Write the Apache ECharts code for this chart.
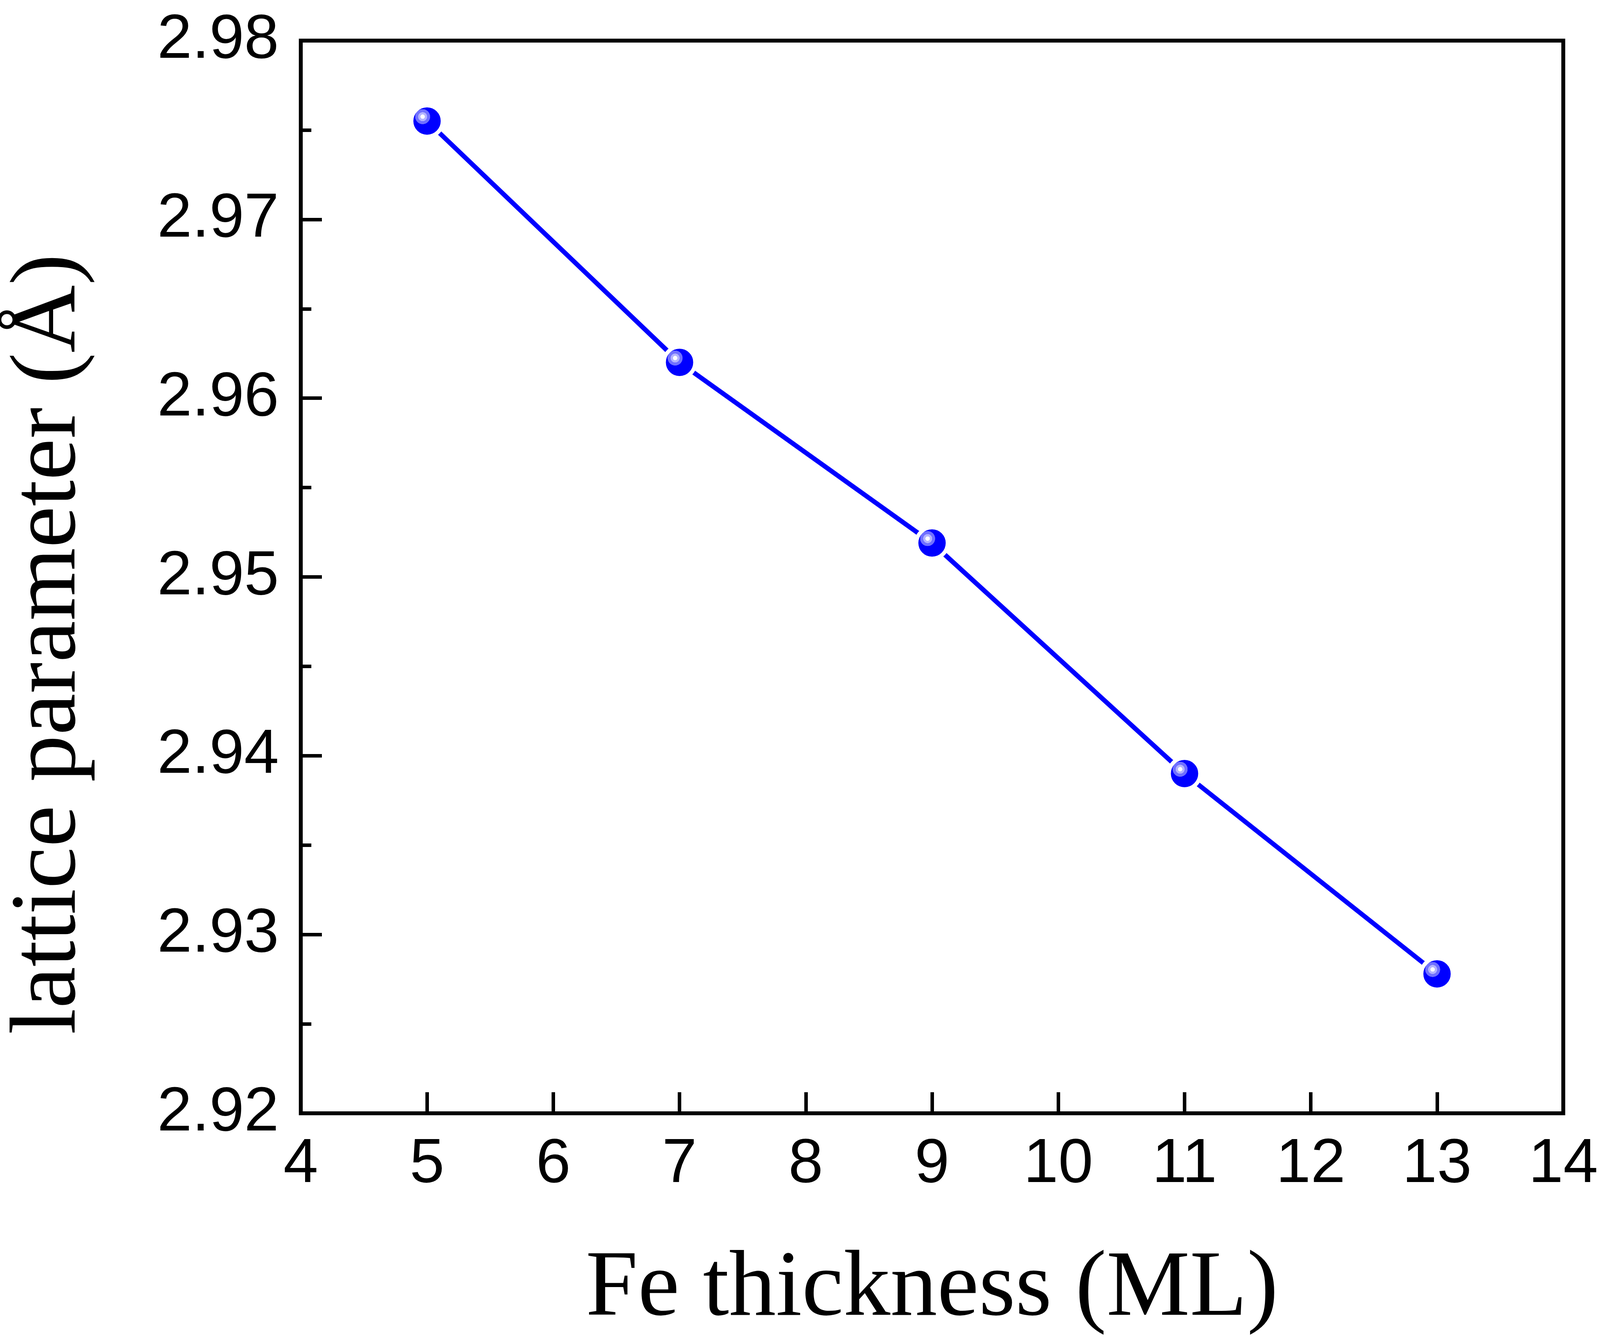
<!DOCTYPE html>
<html>
<head>
<meta charset="utf-8">
<script src="https://cdn.jsdelivr.net/npm/echarts@6/dist/echarts.min.js"></script>
<style>
html,body{margin:0;padding:0;background:#fff;overflow:hidden;}
#chart{width:100vw;height:100vh;}
</style>
</head>
<body>
<div id="chart"></div>
<script>
var thickness = [5, 7, 9, 11, 13];
var latticeParam = [2.9755, 2.9620, 2.9519, 2.9390, 2.9278];
var xTitle = 'Fe thickness (ML)';
var yTitle = 'lattice parameter (Å)';

var el = document.getElementById('chart');
var W = el.clientWidth || window.innerWidth;
var H = el.clientHeight || window.innerHeight;
var sx = W / 4677;   // reference layout was 4677 wide
var sy = H / 3429;

var chart = echarts.init(el, null, {renderer: 'canvas'});
var seriesData = thickness.map(function (x, i) { return [x, latticeParam[i]]; });

var ballFill = {
  type: 'radial', x: 0.375, y: 0.375, r: 0.5,
  colorStops: [
    {offset: 0, color: '#ffffff'},
    {offset: 0.12, color: '#ffffff'},
    {offset: 0.13, color: '#b4b4ff'},
    {offset: 0.25, color: '#b4b4ff'},
    {offset: 0.26, color: '#7070ff'},
    {offset: 0.42, color: '#7070ff'},
    {offset: 0.43, color: '#0000ff'},
    {offset: 1, color: '#0000ff'}
  ]
};

var gridLeft = Math.round(846 * sx);
var gridRight = Math.round(107 * sx);
var gridTop = Math.round(104 * sy);
var gridBottom = Math.round(575 * sy);
var yTitleEdge = Math.round(250 * sx);

chart.setOption({
  animation: false,
  backgroundColor: '#ffffff',
  grid: {
    left: gridLeft, right: gridRight, top: gridTop, bottom: gridBottom,
    show: true, borderColor: '#000', borderWidth: 10, backgroundColor: 'transparent'
  },
  xAxis: {
    type: 'value', min: 4, max: 14, interval: 1,
    name: xTitle, nameLocation: 'middle', nameGap: 333,
    nameTextStyle: {fontFamily: 'Liberation Serif', fontSize: 240, color: '#000', lineHeight: 240},
    axisLine: {show: true, lineStyle: {color: '#000', width: 10}},
    axisTick: {show: true, inside: true, length: 54, lineStyle: {color: '#000', width: 9}},
    axisLabel: {fontFamily: 'Liberation Sans', fontSize: 160, color: '#000', margin: 52},
    splitLine: {show: false}
  },
  yAxis: {
    type: 'value', min: 2.92, max: 2.98, interval: 0.01,
    name: yTitle, nameLocation: 'middle', nameGap: gridLeft - yTitleEdge, nameRotate: 90,
    nameTextStyle: {fontFamily: 'Liberation Serif', fontSize: 240, color: '#000', lineHeight: 240, padding: [0, 344, 0, 0]},
    axisLine: {show: true, lineStyle: {color: '#000', width: 10}},
    axisTick: {show: true, inside: true, length: 54, lineStyle: {color: '#000', width: 9}},
    minorTick: {show: true, splitNumber: 2, length: 27, lineStyle: {color: '#000', width: 9}},
    axisLabel: {fontFamily: 'Liberation Sans', fontSize: 160, color: '#000', margin: Math.round(64 * sx),
      formatter: function (v) { return v.toFixed(2); }},
    splitLine: {show: false}
  },
  series: [{
    type: 'line',
    data: seriesData,
    lineStyle: {color: '#0000ff', width: 12, cap: 'round'},
    symbol: 'circle',
    symbolSize: 80,
    itemStyle: {color: ballFill, borderColor: '#ffffff', borderWidth: 10},
    z: 3
  }]
});
</script>
</body>
</html>
